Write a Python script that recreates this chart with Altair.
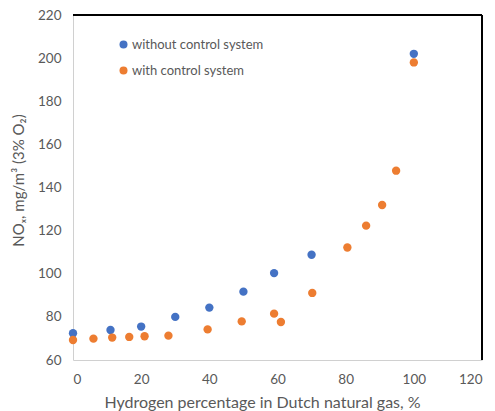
import altair as alt
import pandas as pd

x_without = [0, 11, 20, 30, 40, 50, 59, 70, 100]
y_without = [72.4, 73.9, 75.5, 80, 84.3, 91.7, 100.3, 108.8, 202]

x_with = [0, 6, 11.5, 16.5, 21, 28, 39.5, 49.5, 59, 61, 70.2, 80.5, 86, 90.7, 94.8, 100]
y_with = [69.3, 69.9, 70.4, 70.7, 71, 71.3, 74.2, 77.9, 81.5, 77.6, 91.1, 112.2, 122.3, 131.9, 147.8, 198]

series_names = ["without control system", "with control system"]
series_colors = ["#4472C4", "#ED7D31"]

df = pd.DataFrame({
    "x": x_without + x_with,
    "y": y_without + y_with,
    "series": [series_names[0]] * len(x_without) + [series_names[1]] * len(x_with),
})

FONT = "Lato"
GRAY = "#595959"
W, H = 409, 345

points = alt.Chart(df).mark_circle(size=70, opacity=1).encode(
    x=alt.X("x:Q",
            scale=alt.Scale(domain=[0, 120], nice=False, zero=False),
            axis=alt.Axis(values=[0, 20, 40, 60, 80, 100, 120], grid=False, ticks=False,
                          domainColor="#d0d0d0", labelColor=GRAY, labelFontSize=13.5,
                          labelFont=FONT, labelPadding=12,
                          title="Hydrogen percentage in Dutch natural gas, %",
                          titleFont=FONT, titleFontSize=16, titleFontWeight="normal",
                          titleColor=GRAY, titleX=189, titleY=42, titleBaseline="middle",
                          titleAlign="center")),
    y=alt.Y("y:Q",
            scale=alt.Scale(domain=[60, 220], nice=False, zero=False),
            axis=alt.Axis(values=list(range(60, 221, 20)), grid=False, ticks=False,
                          domainColor="#d0d0d0", labelColor=GRAY, labelFontSize=13.5,
                          labelFont=FONT, labelPadding=12,
                          title="NOₓ, mg/m³ (3% O₂)",
                          titleFont=FONT, titleFontSize=15, titleFontWeight="normal",
                          titleColor=GRAY, titleX=-55, titleY=165, titleBaseline="middle",
                          titleAlign="center", titleAngle=270)),
    color=alt.Color("series:N",
                    scale=alt.Scale(domain=series_names, range=series_colors),
                    legend=alt.Legend(orient="none", legendX=44, legendY=23, title=None,
                                      labelFont=FONT, labelFontSize=13, labelColor=GRAY,
                                      symbolType="circle", symbolSize=64, rowPadding=12,
                                      labelOffset=2)),
)

top_border = alt.Chart(df).mark_rule(color="black", strokeWidth=1.5).encode(
    x=alt.value(0), x2=alt.value(W), y=alt.value(0))
right_border = alt.Chart(df).mark_rule(color="black", strokeWidth=1.5).encode(
    x=alt.value(W), y=alt.value(0), y2=alt.value(H))

chart = alt.layer(points, top_border, right_border).properties(
    width=W, height=H,
    autosize=alt.AutoSizeParams(type="none"),
    padding={"left": 65, "top": 7, "right": 5, "bottom": 56},
).configure_view(stroke=None)

chart.save("out.html", embed_options={"renderer": "svg", "actions": False})
